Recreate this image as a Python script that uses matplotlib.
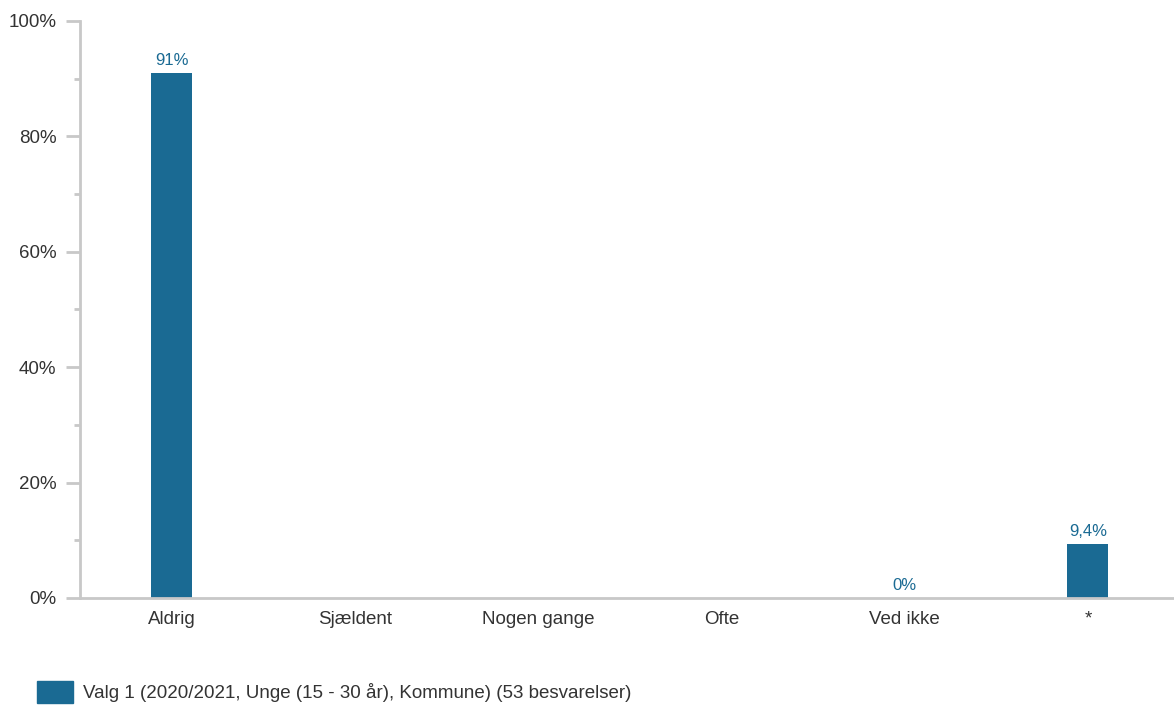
import matplotlib
matplotlib.use('Agg')
import matplotlib.pyplot as plt
from matplotlib.ticker import MultipleLocator, FuncFormatter
from matplotlib.patches import Patch

plt.rcParams['font.family'] = ['Liberation Sans', 'DejaVu Sans']

categories = ['Aldrig', 'Sjældent', 'Nogen gange', 'Ofte', 'Ved ikke', '*']
values = [91.0, None, None, None, 0.0, 9.4]
labels = ['91%', None, None, None, '0%', '9,4%']
series_name = 'Valg 1 (2020/2021, Unge (15 - 30 år), Kommune) (53 besvarelser)'

BAR = '#1a6a93'
GRID = '#c8c8c8'
TXT = '#333333'

fig = plt.figure(figsize=(11.74, 7.06), dpi=100)
ax = fig.add_axes([80/1174, 1 - 598/706, 1 - 80/1174, (598 - 21)/706])

xs = list(range(len(categories)))
for x, v, lab in zip(xs, values, labels):
    if v is None:
        continue
    ax.bar(x, v, width=0.225, color=BAR)
    if lab is not None:
        ax.text(x, v + 0.8, lab, ha='center', va='bottom', fontsize=12, color=BAR)

# last category is partly cut off by the right edge in the original
ax.set_xlim(-0.5, len(categories) - 0.53)
ax.set_ylim(0, 100)
ax.set_xticks(xs)
ax.set_xticklabels(categories, fontsize=13.5, color=TXT)
ax.yaxis.set_major_locator(MultipleLocator(20))
ax.yaxis.set_minor_locator(MultipleLocator(10))
ax.yaxis.set_major_formatter(FuncFormatter(lambda v, p: f'{v:.0f}%'))
ax.tick_params(axis='y', which='major', length=10, width=2, color=GRID, labelsize=13.5, labelcolor=TXT, pad=7)
ax.tick_params(axis='y', which='minor', length=4, width=2, color=GRID)
ax.tick_params(axis='x', length=0, pad=9)

for s in ['top', 'right']:
    ax.spines[s].set_visible(False)
for s in ['left', 'bottom']:
    ax.spines[s].set_color(GRID)
    ax.spines[s].set_linewidth(2)

fig.legend(handles=[Patch(color=BAR, label=series_name)], loc='center left',
           bbox_to_anchor=(37/1174, 1 - 692/706), frameon=False, fontsize=13.5,
           borderpad=0, borderaxespad=0,
           handlelength=1.92, handleheight=1.4, handletextpad=0.53, labelcolor=TXT)

fig.savefig('out.png', dpi=100)
